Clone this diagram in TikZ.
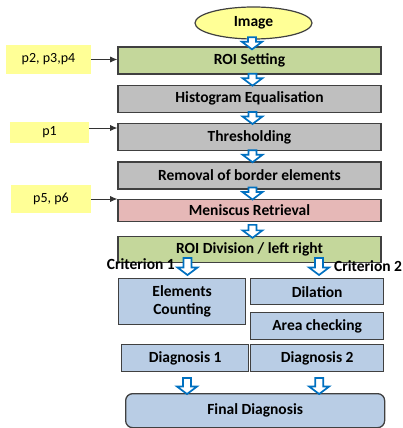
\documentclass[tikz,border=0pt]{standalone}
\usepackage{fontspec}
\setmainfont{Carlito}
\usetikzlibrary{arrows.meta,calc,positioning,shapes.geometric}
\definecolor{roigreen}{RGB}{196,215,155}
\definecolor{stepgray}{RGB}{191,191,191}
\definecolor{menpink}{RGB}{230,184,183}
\definecolor{critblue}{RGB}{185,205,229}
\definecolor{parmyellow}{RGB}{255,255,150}
\definecolor{flowblue}{RGB}{0,112,192}
\definecolor{edgegray}{RGB}{64,64,64}
\tikzset{
  stage/.style={draw=edgegray,line width=1.3pt,align=center,inner sep=2pt,
    font=\bfseries\fontsize{15.5}{18}\selectfont,minimum height=27pt},
  mainstage/.style={stage,minimum width=263pt},
  roistage/.style={mainstage,fill=roigreen},
  graystage/.style={mainstage,fill=stepgray},
  menstage/.style={mainstage,fill=menpink},
  critstage/.style={stage,fill=critblue,anchor=north west},
  parbox/.style={fill=parmyellow,align=center,inner sep=2pt,
    font=\fontsize{14}{16}\selectfont},
  parflow/.style={-{Latex[length=2.5mm,width=2.2mm]},line width=1pt,draw=edgegray!80!black},
  critlab/.style={font=\bfseries\fontsize{15.5}{18}\selectfont,inner sep=1pt},
  % hollow down arrow, tip at the origin, shaft length as argument
  pics/downarrow/.style={code={
    \draw[flowblue,line width=1.7pt,fill=white,line join=miter]
      (0,0) -- (10pt,7.5pt) -- (4pt,7.5pt) -- (4pt,#1) -- (-4pt,#1)
      -- (-4pt,7.5pt) -- (-10pt,7.5pt) -- cycle;}}
}

\begin{document}
\begin{tikzpicture}[x=1pt,y=-1pt]
  \useasboundingbox (0,0) rectangle (402,428);

  % main column
  \node[draw=edgegray,line width=1.2pt,fill=parmyellow,ellipse,minimum width=117pt,
    minimum height=32pt,inner sep=0pt,font=\bfseries\fontsize{15.5}{18}\selectfont]
    (img) at (253.5,23) {Image};
  \node[roistage] (roi) at (249.5,60.5) {ROI Setting};
  \node[graystage,below=10pt of roi] (hist) {Histogram Equalisation};
  \node[graystage,below=10pt of hist] (thr) {Thresholding};
  \node[graystage,below=10pt of thr] (rem) {Removal of border elements};
  \node[menstage,below=9pt of rem,minimum height=22pt] (men) {Meniscus Retrieval};
  \node[roistage,below=14pt of men,minimum height=26pt] (div) {ROI Division / left right};

  % two criteria
  \node[critstage,minimum width=127pt,minimum height=46pt] (count) at (118,278)
    {Elements\\Counting};
  \node[critstage,minimum width=133pt,minimum height=26pt] (dil) at (250,278) {Dilation};
  \node[critstage,minimum width=133pt] (area) at (250,312) {Area checking};
  \node[critstage,minimum width=127pt] (diag1) at (121,344) {Diagnosis 1};
  \node[critstage,minimum width=133pt] (diag2) at (250,344) {Diagnosis 2};
  \node[critstage,minimum width=259pt,minimum height=34pt,rounded corners=7pt]
    (final) at (125,393) {Final Diagnosis};

  % parameters
  \node[parbox,minimum width=85pt,minimum height=29pt] (p234) at (48.5,59.5) {p2, p3,p4};
  \node[parbox,minimum width=79pt,minimum height=21pt] (p1) at (49.5,132.5) {p1};
  \node[parbox,minimum width=80pt,minimum height=28pt] (p56) at (51,199) {p5, p6};
  \draw[parflow] (p234.east) -- (p234.east -| roi.west);
  \draw[parflow] ([yshift=4.5pt]p1.east) -- ([yshift=4.5pt]p1.east -| thr.west);
  \draw[parflow] (p56.east) -- (p56.east -| men.west);

  % block arrows
  \pic at ([xshift=2.5pt,yshift=-3pt]roi.north) {downarrow=12pt};
  \pic at ([xshift=3pt,yshift=-1pt]hist.north) {downarrow=12pt};
  \pic at ([xshift=3pt,yshift=-1pt]thr.north) {downarrow=12pt};
  \pic at ([xshift=3pt,yshift=-1pt]rem.north) {downarrow=12pt};
  \pic at ([xshift=3pt,yshift=-1pt]men.north) {downarrow=12pt};
  \pic at ([xshift=3pt,yshift=-2pt]div.north) {downarrow=13pt};
  \coordinate (c1) at (187.5,275);
  \coordinate (c2) at (319,275);
  \pic at (c1) {downarrow=17pt};
  \pic at (c2) {downarrow=17pt};
  \node[critlab,anchor=east] (crit1) at (176,264) {Criterion 1};
  \node[critlab,anchor=west] (crit2) at (333,266) {Criterion 2};
  \pic at ([xshift=62pt,yshift=-1pt]final.north west) {downarrow=16pt};
  \pic at ([xshift=2pt,yshift=-1pt]diag2.south |- final.north) {downarrow=16pt};
\end{tikzpicture}
\end{document}
